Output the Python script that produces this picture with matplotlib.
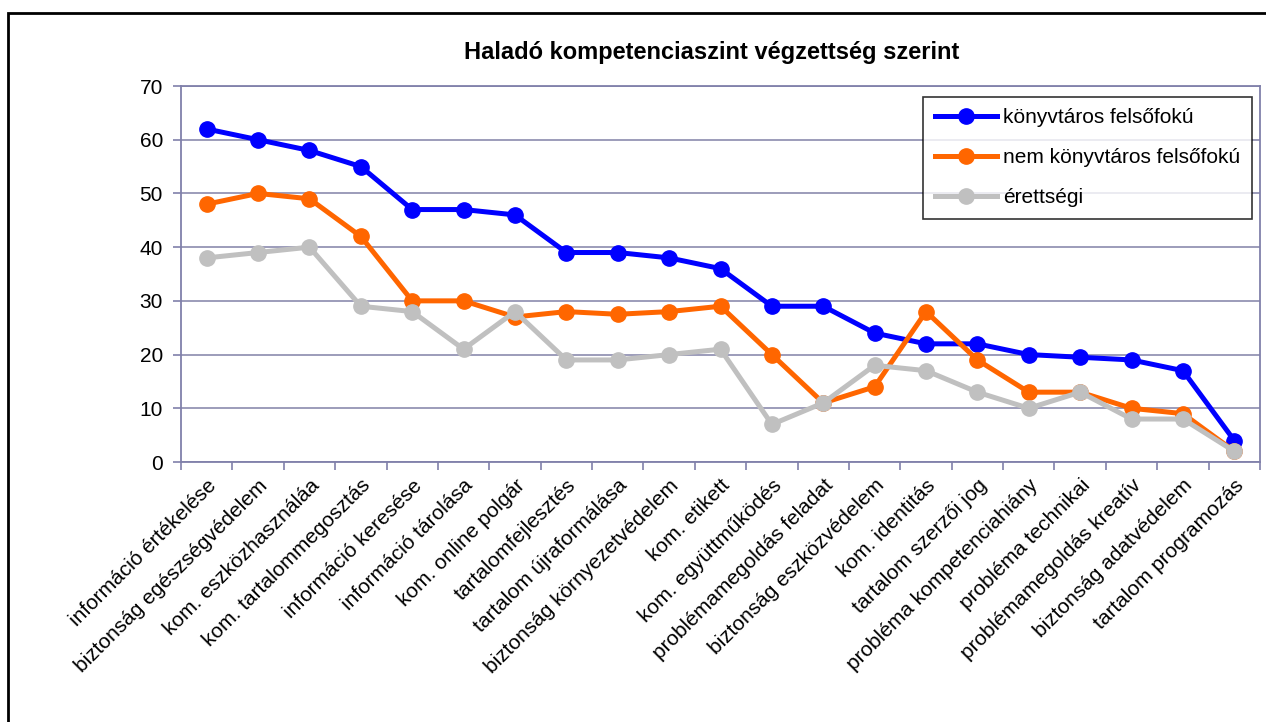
import matplotlib
matplotlib.use("Agg")
import matplotlib.pyplot as plt
from matplotlib.patches import Rectangle
import numpy as np

plt.rcParams['font.family'] = ['Liberation Sans', 'DejaVu Sans']

categories = [
    "információ értékelése", "biztonság egészségvédelem", "kom. eszközhasználáa",
    "kom. tartalommegosztás", "információ keresése", "információ tárolása",
    "kom. online polgár", "tartalomfejlesztés", "tartalom újraformálása",
    "biztonság környezetvédelem", "kom. etikett", "kom. együttműködés",
    "problémamegoldás feladat", "biztonság eszközvédelem", "kom. identitás",
    "tartalom szerzői jog", "probléma kompetenciahiány", "probléma technikai",
    "problémamegoldás kreatív", "biztonság adatvédelem", "tartalom programozás",
]
konyvtaros = [62, 60, 58, 55, 47, 47, 46, 39, 39, 38, 36, 29, 29, 24, 22, 22, 20, 19.5, 19, 17, 4]
nem_konyvtaros = [48, 50, 49, 42, 30, 30, 27, 28, 27.5, 28, 29, 20, 11, 14, 28, 19, 13, 13, 10, 9, 2]
erettsegi = [38, 39, 40, 29, 28, 21, 28, 19, 19, 20, 21, 7, 11, 18, 17, 13, 10, 13, 8, 8, 2]
series_names = ["könyvtáros felsőfokú", "nem könyvtáros felsőfokú", "érettségi"]
yticks = [0, 10, 20, 30, 40, 50, 60, 70]
title = "Haladó kompetenciaszint végzettség szerint"

W, H = 1266, 722
fig = plt.figure(figsize=(W / 100, H / 100), dpi=100)
ax = fig.add_axes([181 / W, 1 - 462 / H, (1260 - 181) / W, (462 - 86) / H])

axis_col = '#8080AA'
grid_col = '#9494B4'
x = np.arange(len(categories))
colors = ['#0000FF', '#FF6600', '#C0C0C0']
for vals, name, c in zip([konyvtaros, nem_konyvtaros, erettsegi], series_names, colors):
    ax.plot(x, vals, color=c, lw=3.6, marker='o', markersize=11, label=name,
            solid_joinstyle='round', zorder=3)

ax.set_xlim(-0.5, len(categories) - 0.5)
ax.set_ylim(0, 70)
ax.set_yticks(yticks)
ax.set_yticklabels([str(v) for v in yticks], fontsize=15)
ax.yaxis.grid(True, color=grid_col, lw=1.3, zorder=0)
ax.set_axisbelow(True)

ax.set_xticks(x)
ax.set_xticklabels(categories, rotation=45, ha='right', va='top',
                   rotation_mode='anchor', fontsize=15)
ax.tick_params(axis='x', which='major', length=0, pad=10)
ax.set_xticks(np.arange(-0.5, len(categories), 1.0), minor=True)
ax.tick_params(axis='x', which='minor', length=6, color=axis_col, width=1.2)
ax.tick_params(axis='y', length=6, color=axis_col, width=1.2, pad=7)

for s in ax.spines.values():
    s.set_color(axis_col)
    s.set_linewidth(1.3)

leg = ax.legend(loc='upper right', bbox_to_anchor=(1252 / W, 1 - 97 / H),
                bbox_transform=fig.transFigure, fontsize=15, frameon=True,
                fancybox=False, borderaxespad=0, handlelength=3.0,
                labelspacing=1.0, borderpad=0.55, handletextpad=0.3)
leg.get_frame().set_edgecolor('black')
leg.get_frame().set_linewidth(1.2)

fig.text(712 / W, 1 - 53 / H, title, ha='center', va='center',
         fontsize=17, fontweight='bold')

fig.patches.append(Rectangle((8 / W, -0.1), 1.2, 1 - 13 / H + 0.1,
                             transform=fig.transFigure, fill=False,
                             edgecolor='black', lw=2.0, clip_on=False))

fig.savefig('out.png', dpi=100)
